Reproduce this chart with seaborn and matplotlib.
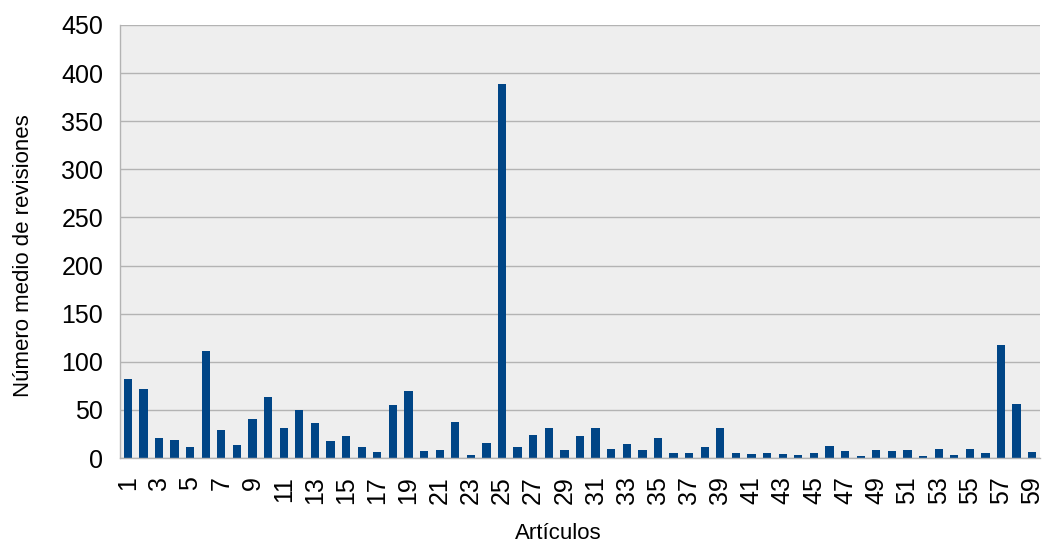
import matplotlib
matplotlib.use("Agg")
import matplotlib.pyplot as plt
import seaborn as sns
import pandas as pd
import numpy as np

# Mean number of revisions per article
articles = list(range(1, 60))
revisions = [
    81.6, 72, 21, 19, 11, 111, 29.5, 14, 41, 63,
    31.6, 50.3, 36.8, 18, 23.3, 11, 6.6, 55.5, 70, 7.6,
    8.7, 37.8, 3.5, 16, 389, 11, 24.3, 31.6, 8.7, 23.3,
    31.6, 9.7, 15, 8.7, 21, 5.6, 5.6, 11.8, 31.6, 5.6,
    4.5, 5.6, 4.5, 3.5, 5.6, 12.8, 7.6, 2.4, 8.7, 7.6,
    8.7, 2.4, 9.7, 3.5, 9.7, 5.6, 117, 56.6, 6.6,
]

df = pd.DataFrame({"Artículos": [str(a) for a in articles], "Revisiones": revisions})

sns.set_style("white", {"text.color": "black", "xtick.color": "black",
                        "ytick.color": "black", "axes.labelcolor": "black"})
plt.rcParams["font.family"] = ["Liberation Sans", "DejaVu Sans"]

fig = plt.figure(figsize=(10.43, 5.44), dpi=100)
ax = fig.add_axes([120 / 1043, 1 - 458 / 544, 920 / 1043, 433 / 544])
ax.set_facecolor("#eeeeee")

sns.barplot(data=df, x="Artículos", y="Revisiones", color="#004586",
            saturation=1, width=0.53, linewidth=0, ax=ax)

ax.set_ylim(0, 450)
ax.set_xlim(-0.5, len(articles) - 0.5)
ax.set_yticks(np.arange(0, 451, 50))
ax.yaxis.grid(True, color="#b3b3b3", linewidth=1)
ax.set_axisbelow(True)

# labels on every other article, marks on category boundaries
ax.set_xticks(np.arange(0, len(articles), 2))
ax.set_xticklabels([str(a) for a in articles[::2]], rotation=90)
ax.set_xticks(np.arange(-0.5, len(articles), 1), minor=True)
ax.tick_params(axis="x", which="major", length=0, pad=13, labelsize=18, labelcolor="black")
ax.tick_params(axis="x", which="minor", length=7, color="#b3b3b3", width=1)
ax.tick_params(axis="y", length=7, color="#b3b3b3", width=1, labelsize=18, pad=5,
               labelcolor="black")

for s in ["top", "right"]:
    ax.spines[s].set_visible(False)
for s in ["left", "bottom"]:
    ax.spines[s].set_color("#b3b3b3")
    ax.spines[s].set_linewidth(1)

ax.set_xlabel("Artículos", fontsize=16, color="black")
ax.set_ylabel("Número medio de revisiones", fontsize=16, color="black")
ax.xaxis.set_label_coords((558 - 120) / 920, (458 - 523) / 433)
ax.yaxis.set_label_coords((34 - 120) / 920, (458 - 256) / 433)

fig.savefig("out.png", dpi=100)
